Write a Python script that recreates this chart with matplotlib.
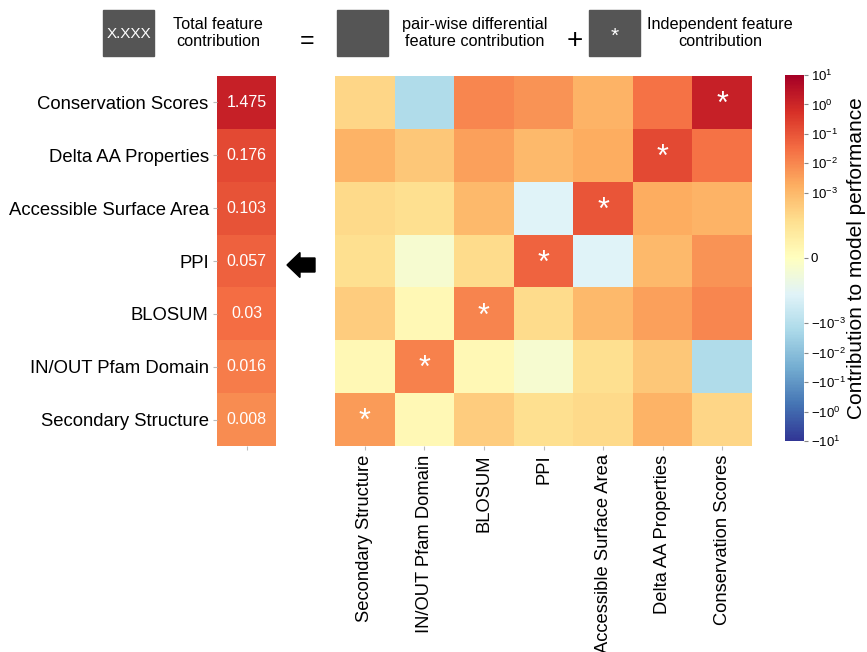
import numpy as np
import matplotlib
matplotlib.use("Agg")
import matplotlib.pyplot as plt
from matplotlib.colors import SymLogNorm, to_rgb
from matplotlib.patches import FancyArrow, Rectangle

plt.rcParams["font.family"] = ["Liberation Sans", "DejaVu Sans"]
plt.rcParams["mathtext.fontset"] = "custom"
plt.rcParams["mathtext.rm"] = "Liberation Sans"
plt.rcParams["mathtext.it"] = "Liberation Sans"

# Features, ordered from most to least important
features = [
    "Conservation Scores",
    "Delta AA Properties",
    "Accessible Surface Area",
    "PPI",
    "BLOSUM",
    "IN/OUT Pfam Domain",
    "Secondary Structure",
]
total_contrib = [1.475, 0.176, 0.103, 0.057, 0.03, 0.016, 0.008]
independent_contrib = [1.40, 0.16, 0.10, 0.05, 0.012, 0.013, 0.004]

# Pair-wise differential contributions (symmetric, same order as features)
pairwise = [
    [0.0, 0.024, 1.4e-3, 5.8e-3, 0.0105, -1.4e-3, 6.7e-4],
    [0.024, 0.0, 1.9e-3, 1.0e-3, 3.3e-3, 8.4e-4, 1.4e-3],
    [1.4e-3, 1.9e-3, 0.0, -5.6e-4, 1.0e-3, 5.6e-4, 6.2e-4],
    [5.8e-3, 1.0e-3, -5.6e-4, 0.0, 6.0e-4, -1.7e-4, 5.6e-4],
    [0.0105, 3.3e-3, 1.0e-3, 6.0e-4, 0.0, 1.1e-4, 7.8e-4],
    [-1.4e-3, 8.4e-4, 5.6e-4, -1.7e-4, 1.1e-4, 0.0, 1.1e-4],
    [6.7e-4, 1.4e-3, 6.2e-4, 5.6e-4, 7.8e-4, 1.1e-4, 0.0],
]

cbar_ticks = [10, 1, 0.1, 0.01, 0.001, 0, -0.001, -0.01, -0.1, -1, -10]

W, H = 867, 652
n = len(features)
cmap = plt.get_cmap("RdYlBu_r")
norm = SymLogNorm(linthresh=1e-3, linscale=2, vmin=-10, vmax=10, base=10)


def px_axes(fig, x0, y0, x1, y1):
    """Add axes from pixel coordinates measured from the top-left corner."""
    return fig.add_axes([x0 / W, 1 - y1 / H, (x1 - x0) / W, (y1 - y0) / H])


def text_color(value):
    r, g, b = [c / 12.92 if c <= 0.04045 else ((c + 0.055) / 1.055) ** 2.4
               for c in to_rgb(cmap(norm(value)))]
    lum = 0.2126 * r + 0.7152 * g + 0.0722 * b
    return "#222222" if lum > 0.408 else "white"


fig = plt.figure(figsize=(W / 100, H / 100), dpi=100)

# Total contribution column
ax_tot = px_axes(fig, 217, 76, 276, 446)
tot = np.array(total_contrib).reshape(-1, 1)
ax_tot.pcolormesh(tot, cmap=cmap, norm=norm)
ax_tot.set_ylim(n, 0)
ax_tot.set_xlim(0, 1)
for i, v in enumerate(total_contrib):
    ax_tot.text(0.5, i + 0.5, f"{v:g}", ha="center", va="center",
                fontsize=11.5, color=text_color(v))
ax_tot.set_yticks(np.arange(n) + 0.5)
ax_tot.set_yticklabels(features, fontsize=13.3)
ax_tot.set_xticks([0.5])
ax_tot.set_xticklabels([""])
ax_tot.tick_params(length=3, color="#bbbbbb", pad=3)
for s in ax_tot.spines.values():
    s.set_visible(False)

# Pair-wise heatmap, columns in reverse order
mat = np.array(pairwise)
for i in range(n):
    mat[i, i] = independent_contrib[i]
mat_disp = mat[:, ::-1]
col_labels = features[::-1]

ax_hm = px_axes(fig, 335, 76, 752, 446)
ax_hm.pcolormesh(mat_disp, cmap=cmap, norm=norm)
ax_hm.set_ylim(n, 0)
ax_hm.set_xlim(0, n)
for i in range(n):
    j = n - 1 - i
    ax_hm.text(j + 0.5, i + 0.55, "*", ha="center", va="center",
               fontsize=22, color="white")
ax_hm.set_yticks([])
ax_hm.set_xticks(np.arange(n) + 0.5)
ax_hm.set_xticklabels(col_labels, rotation=90, fontsize=13.2)
ax_hm.tick_params(axis="x", length=3, color="#bbbbbb", pad=3)
for s in ax_hm.spines.values():
    s.set_visible(False)

# Colorbar
cax = px_axes(fig, 785, 75, 804, 441)
sm = matplotlib.cm.ScalarMappable(norm=norm, cmap=cmap)
cb = fig.colorbar(sm, cax=cax)
cb.outline.set_visible(False)
cb.set_ticks(cbar_ticks)


def fmt_tick(v):
    if v == 0:
        return "0"
    exp = int(round(np.log10(abs(v))))
    sign = "-" if v < 0 else ""
    return rf"${sign}10^{{{exp}}}$"


cb.set_ticklabels([fmt_tick(v) for v in cbar_ticks])
cax.tick_params(labelsize=9.5, length=3, color="#888888", pad=2)
cax.minorticks_off()
fig.text(856 / W, 1 - 258 / H, "Contribution to model performance",
         rotation=90, ha="center", va="center", fontsize=15)

# Arrow pointing at the total column
fig.patches.append(FancyArrow(315 / W, 1 - 265 / H, -28 / W, 0,
                              width=14 / H, head_width=25 / H,
                              head_length=13 / W, length_includes_head=True,
                              color="black", transform=fig.transFigure))

# Legend strip across the top
box_color = "#555555"
for x0, label in [(103, "X.XXX"), (337, ""), (589, "*")]:
    fig.patches.append(Rectangle((x0 / W, 1 - 56 / H), 51 / W, 46 / H,
                                 color=box_color, transform=fig.transFigure))
    if label == "*":
        fig.text((x0 + 25.5) / W, 1 - 36 / H, label, ha="center",
                 va="center", color="white", fontsize=15)
    elif label:
        fig.text((x0 + 25.5) / W, 1 - 34 / H, label, ha="center",
                 va="center", color="white", fontsize=11)

legend_texts = [
    (218, "Total feature\ncontribution"),
    (475, "pair-wise differential\nfeature contribution"),
    (720, "Independent feature\ncontribution"),
]
for xc, label in legend_texts:
    fig.text(xc / W, 1 - 33 / H, label, ha="center", va="center",
             fontsize=11.7, linespacing=1.15)
fig.text(307 / W, 1 - 41 / H, "=", ha="center", va="center", fontsize=18)
fig.text(575 / W, 1 - 41 / H, "+", ha="center", va="center", fontsize=20)

plt.savefig("out.png", dpi=100)
plt.close()
